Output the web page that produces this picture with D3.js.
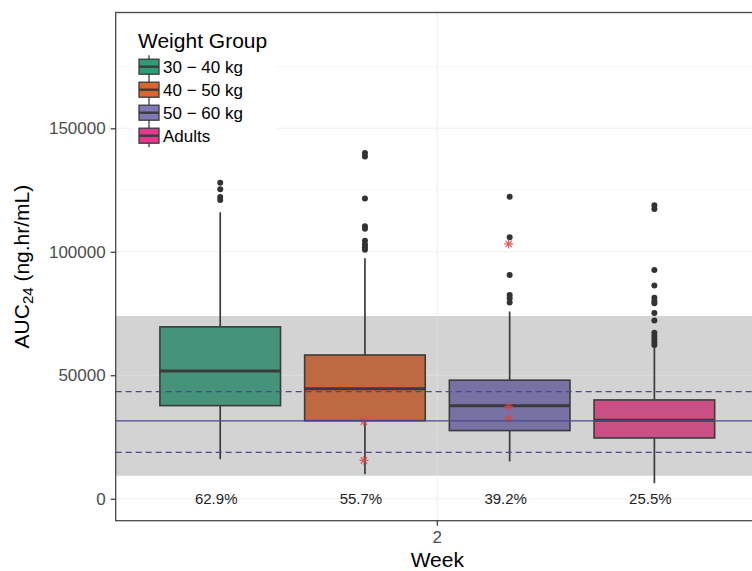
<!DOCTYPE html>
<html>
<head>
<meta charset="utf-8">
<script src="https://cdn.jsdelivr.net/npm/d3@7"></script>
<style>
  body { margin: 0; background: #fff; }
  svg { display: block; }
  text { font-family: "Liberation Sans", Arial, Helvetica, sans-serif; }
</style>
</head>
<body>
<svg id="chart" width="752" height="571"></svg>
<script>
// ---- data -------------------------------------------------------------
const weeks = ["2"];
const groups = ["30 \u2212 40 kg", "40 \u2212 50 kg", "50 \u2212 60 kg", "Adults"];

// box statistics per weight group (ng.hr/mL)
const whiskerLow  = [16000,  9900, 15100,  6300];
const quartile1   = [37700, 31600, 27600, 24600];
const medians     = [51700, 44500, 37700, 31800];
const quartile3   = [69600, 58200, 48000, 40000];
const whiskerHigh = [116000, 97400, 75800, 61600];

const outliers1 = [128000, 125300, 122200, 121000];
const outliers2 = [140000, 138600, 121600, 110300, 109300, 104500, 103000, 101800, 100800];
const outliers3 = [122300, 105900, 90600, 82500, 81200, 79500];
const outliers4 = [118800, 117300, 92600, 86300, 81400, 80000, 79200, 75200, 72200,
                   67200, 65900, 64700, 63500, 62300];

// observed individual values (asterisks)
const observed1 = [];
const observed2 = [31200, 15500];
const observed3 = [103200, 37300, 32400];
const observed4 = [];

const pctLabels = ["62.9%", "55.7%", "39.2%", "25.5%"];

const yTicks = [0, 50000, 100000, 150000];
const yMinorTicks = [25000, 75000, 125000, 175000];

// adult reference: median, dashed bounds and shaded target range
const refMedian = 31500;
const refLower = 18800;
const refUpper = 43400;
const bandLower = 9300;
const bandUpper = 74000;

// ---- styling ----------------------------------------------------------
const boxFill    = ["#45937A", "#BF6942", "#7872A4", "#C94F84"];
const legendFill = ["#2F9C79", "#D9672C", "#7E79B8", "#E0398E"];
const ink = "#3B3B3B";
const refColor = "#4A4A8C";

const W = 752, H = 571;
const panel = { left: 115.7, top: 12.5, right: 758.9, bottom: 520.7 };

const svg = d3.select("#chart");
svg.append("rect").attr("width", W).attr("height", H).attr("fill", "#fff");

const x = d3.scaleBand().domain(weeks).range([panel.left, panel.right]).padding(0);
const bw = x.bandwidth();
const dodge = d3.scaleBand().domain(groups).range([bw * 0.05, bw * 0.95]).padding(0);
const boxW = dodge.bandwidth() * 0.75 / 0.9;
const cx = g => x(weeks[0]) + dodge(g) + dodge.bandwidth() / 2;

const y = d3.scaleLinear().domain([-8900, 196900]).range([panel.bottom, panel.top]);

svg.append("clipPath").attr("id", "pclip").append("rect")
  .attr("x", panel.left).attr("y", panel.top)
  .attr("width", panel.right - panel.left).attr("height", panel.bottom - panel.top);

const plot = svg.append("g").attr("clip-path", "url(#pclip)");

// grid
function drawGrid(layer, majorColor, minorColor) {
  layer.selectAll(null).data(yMinorTicks).join("line")
    .attr("x1", panel.left).attr("x2", panel.right)
    .attr("y1", d => y(d)).attr("y2", d => y(d))
    .attr("stroke", minorColor).attr("stroke-width", 0.6);
  layer.selectAll(null).data(yTicks).join("line")
    .attr("x1", panel.left).attr("x2", panel.right)
    .attr("y1", d => y(d)).attr("y2", d => y(d))
    .attr("stroke", majorColor).attr("stroke-width", 1.1);
  layer.selectAll(null).data(weeks).join("line")
    .attr("x1", d => x(d) + bw / 2).attr("x2", d => x(d) + bw / 2)
    .attr("y1", panel.top).attr("y2", panel.bottom)
    .attr("stroke", majorColor).attr("stroke-width", 1.1);
}
drawGrid(plot.append("g"), "#EBEBEB", "#F2F2F2");

// shaded target range
plot.append("rect")
  .attr("x", panel.left).attr("width", panel.right - panel.left)
  .attr("y", y(bandUpper)).attr("height", y(bandLower) - y(bandUpper))
  .attr("fill", "#D3D3D3");
drawGrid(plot.append("g"), "rgba(255,255,255,0.28)", "rgba(255,255,255,0.15)");

// boxplots
const stats = groups.map((g, i) => ({
  g, i,
  lo: whiskerLow[i], q1: quartile1[i], med: medians[i], q3: quartile3[i], hi: whiskerHigh[i]
}));
const boxes = plot.append("g").selectAll("g").data(stats).join("g");
boxes.append("line")
  .attr("x1", d => cx(d.g)).attr("x2", d => cx(d.g))
  .attr("y1", d => y(d.hi)).attr("y2", d => y(d.q3))
  .attr("stroke", ink).attr("stroke-width", 1.7);
boxes.append("line")
  .attr("x1", d => cx(d.g)).attr("x2", d => cx(d.g))
  .attr("y1", d => y(d.q1)).attr("y2", d => y(d.lo))
  .attr("stroke", ink).attr("stroke-width", 1.7);
boxes.append("rect")
  .attr("x", d => cx(d.g) - boxW / 2).attr("width", boxW)
  .attr("y", d => y(d.q3)).attr("height", d => y(d.q1) - y(d.q3))
  .attr("fill", d => boxFill[d.i]).attr("stroke", ink).attr("stroke-width", 1.6);
boxes.append("line")
  .attr("x1", d => cx(d.g) - boxW / 2).attr("x2", d => cx(d.g) + boxW / 2)
  .attr("y1", d => y(d.med)).attr("y2", d => y(d.med))
  .attr("stroke", ink).attr("stroke-width", 3);

// outliers
const outlierSets = [outliers1, outliers2, outliers3, outliers4];
const outlierPts = outlierSets.flatMap((arr, i) => arr.map(v => ({ g: groups[i], v })));
plot.append("g").selectAll("circle").data(outlierPts).join("circle")
  .attr("cx", d => cx(d.g)).attr("cy", d => y(d.v)).attr("r", 3)
  .attr("fill", "#333");

// observed values as asterisks
const observedSets = [observed1, observed2, observed3, observed4];
const obsPts = observedSets.flatMap((arr, i) => arr.map(v => ({ g: groups[i], v })));
const star = d3.path();
const s = 4.5, sd = s * 0.7071;
star.moveTo(-s, 0); star.lineTo(s, 0);
star.moveTo(0, -s); star.lineTo(0, s);
star.moveTo(-sd, -sd); star.lineTo(sd, sd);
star.moveTo(-sd, sd); star.lineTo(sd, -sd);
plot.append("g").selectAll("path").data(obsPts).join("path")
  .attr("transform", d => `translate(${cx(d.g) - 1},${y(d.v)})`)
  .attr("d", star.toString())
  .attr("fill", "none").attr("stroke", "#D64545").attr("stroke-width", 1.2)
  .attr("opacity", 0.85);

// adult reference lines
plot.append("line")
  .attr("x1", panel.left).attr("x2", panel.right)
  .attr("y1", y(refMedian)).attr("y2", y(refMedian))
  .attr("stroke", refColor).attr("stroke-width", 1.3);
plot.selectAll(null).data([refLower, refUpper]).join("line")
  .attr("x1", panel.left).attr("x2", panel.right)
  .attr("y1", d => y(d)).attr("y2", d => y(d))
  .attr("stroke", refColor).attr("stroke-width", 1.3)
  .attr("stroke-dasharray", "6,4");

// percentage labels
plot.append("g").selectAll("text").data(groups).join("text")
  .attr("x", g => cx(g) - 4).attr("y", y(0)).attr("dy", "0.36em")
  .attr("text-anchor", "middle").attr("font-size", 15).attr("fill", "#222")
  .text((g, i) => pctLabels[i]);

// panel border
svg.append("rect")
  .attr("x", panel.left).attr("y", panel.top)
  .attr("width", panel.right - panel.left).attr("height", panel.bottom - panel.top)
  .attr("fill", "none").attr("stroke", "#4a4a4a").attr("stroke-width", 1.3);

// axes
const yAxis = svg.append("g").attr("transform", `translate(${panel.left},0)`)
  .call(d3.axisLeft(y).tickValues(yTicks).tickFormat(d3.format("d")).tickSize(5).tickPadding(5));
const xAxis = svg.append("g").attr("transform", `translate(0,${panel.bottom})`)
  .call(d3.axisBottom(x).tickSize(5).tickPadding(5.3));
[yAxis, xAxis].forEach(a => {
  a.select(".domain").remove();
  a.selectAll(".tick line").attr("stroke", "#333").attr("stroke-width", 1.2);
  a.selectAll(".tick text").attr("fill", "#4D4D4D").attr("font-size", 17)
    .attr("font-family", '"Liberation Sans", Arial, sans-serif');
});

// axis titles
svg.append("text")
  .attr("x", (panel.left + panel.right) / 2).attr("y", 566.5)
  .attr("text-anchor", "middle").attr("font-size", 21).attr("fill", "#000")
  .text("Week");

const yt = svg.append("text")
  .attr("transform", `translate(28.5,${(panel.top + panel.bottom) / 2}) rotate(-90)`)
  .attr("text-anchor", "middle").attr("font-size", 21).attr("fill", "#000");
yt.append("tspan").text("AUC");
yt.append("tspan").attr("font-size", 15).attr("dy", 4).text("24");
yt.append("tspan").attr("dy", -4).text(" (ng.hr/mL)");

// legend
const legend = svg.append("g");
legend.append("rect").attr("x", 130).attr("y", 22).attr("width", 147).attr("height", 128)
  .attr("fill", "#fff");
legend.append("text").attr("x", 138).attr("y", 48).attr("font-size", 21).attr("fill", "#000")
  .text("Weight Group");
const rows = legend.selectAll("g.row").data(groups).join("g")
  .attr("class", "row")
  .attr("transform", (g, i) => `translate(149,${66.7 + i * 23})`);
rows.append("line").attr("x1", 0).attr("x2", 0).attr("y1", -11.5).attr("y2", 11.5)
  .attr("stroke", ink).attr("stroke-width", 1.3);
rows.append("rect").attr("x", -10).attr("y", -7.5).attr("width", 20).attr("height", 15)
  .attr("fill", (g, i) => legendFill[i]).attr("stroke", ink).attr("stroke-width", 1.3);
rows.append("line").attr("x1", -10).attr("x2", 10).attr("y1", 0).attr("y2", 0)
  .attr("stroke", ink).attr("stroke-width", 2.4);
rows.append("text").attr("x", 14).attr("y", 0).attr("dy", "0.36em")
  .attr("font-size", 17).attr("fill", "#000").text(g => g);
</script>
</body>
</html>
